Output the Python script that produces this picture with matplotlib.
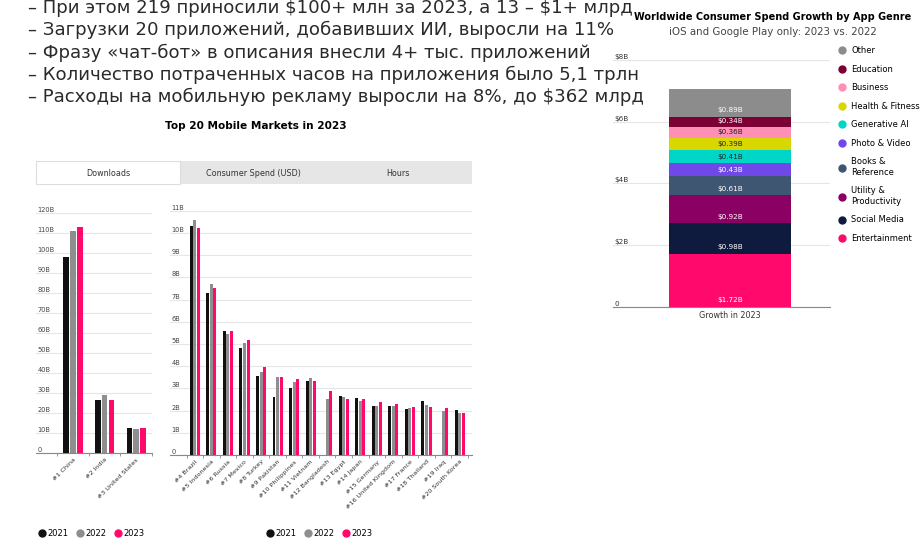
import matplotlib.pyplot as plt
import matplotlib.patches as mpatches
from matplotlib.lines import Line2D
import numpy as np

plt.rcParams['font.family'] = ['DejaVu Sans']

# --- data ---------------------------------------------------------------
bullets = [
    '– При этом 219 приносили $100+ млн за 2023, а 13 – $1+ млрд',
    '– Загрузки 20 приложений, добавивших ИИ, выросли на 11%',
    '– Фразу «чат-бот» в описания внесли 4+ тыс. приложений',
    '– Количество потраченных часов на приложения было 5,1 трлн',
    '– Расходы на мобильную рекламу выросли на 8%, до $362 млрд',
]

years = ['2021', '2022', '2023']
top3 = ['#1 China', '#2 India', '#3 United States']
top3_2021 = [98, 26.5, 12.3]
top3_2022 = [111, 29, 12.2]
top3_2023 = [113, 26.5, 12.6]

rest = ['#4 Brazil', '#5 Indonesia', '#6 Russia', '#7 Mexico', '#8 Turkey',
        '#9 Pakistan', '#10 Philippines', '#11 Vietnam', '#12 Bangladesh',
        '#13 Egypt', '#14 Japan', '#15 Germany', '#16 United Kingdom',
        '#17 France', '#18 Thailand', '#19 Iraq', '#20 South Korea']
rest_2021 = [10.3, 7.3, 5.6, 4.8, 3.55, 2.6, 3.0, 3.35, np.nan, 2.67, 2.57,
             2.2, 2.2, 2.07, 2.45, np.nan, 2.03]
rest_2022 = [10.6, 7.7, 5.45, 5.05, 3.75, 3.5, 3.3, 3.45, 2.52, 2.63, 2.45,
             2.2, 2.2, 2.1, 2.25, 1.97, 1.87]
rest_2023 = [10.2, 7.5, 5.6, 5.2, 3.95, 3.5, 3.4, 3.35, 2.88, 2.53, 2.52,
             2.4, 2.3, 2.15, 2.15, 2.12, 1.91]

genres = ['Entertainment', 'Social Media', 'Utility &\nProductivity',
          'Books &\nReference', 'Photo & Video', 'Generative AI',
          'Health & Fitness', 'Business', 'Education', 'Other']
growth = [1.72, 0.98, 0.92, 0.61, 0.43, 0.41, 0.39, 0.36, 0.34, 0.89]
genre_colors = ['#ff0a6c', '#0e1b3f', '#8a0063', '#3f5672', '#7048ea',
                '#00d6c8', '#d8d800', '#ff8fb4', '#7c0034', '#8c8c8c']
label_dark = ['Generative AI', 'Health & Fitness', 'Business']

year_colors = ['#111111', '#8e8e8e', '#ff0a6c']

W, H = 923, 538
fig = plt.figure(figsize=(W / 100, H / 100), dpi=100)


def box(x0, y0, x1, y1):
    # pixel box (top-left origin) -> figure fraction rect
    return [x0 / W, 1 - y1 / H, (x1 - x0) / W, (y1 - y0) / H]


# --- bullet text -------------------------------------------------------
for i, line in enumerate(bullets):
    fig.text(28 / W, 1 - (8 + 22.3 * i) / H, line, fontsize=13.1,
             va='center', ha='left', color='#2a2a2a', parse_math=False)

# --- title + tabs ------------------------------------------------------
fig.text(256 / W, 1 - 126 / H, 'Top 20 Mobile Markets in 2023',
         fontsize=7.6, fontweight='bold', ha='center', va='center')
tab_y0, tab_y1 = 161, 184
fig.patches.append(mpatches.Rectangle((180 / W, 1 - tab_y1 / H), 292 / W,
                                      (tab_y1 - tab_y0) / H, transform=fig.transFigure,
                                      facecolor='#e6e6e6', edgecolor='none'))
fig.patches.append(mpatches.Rectangle((36 / W, 1 - tab_y1 / H), 144 / W,
                                      (tab_y1 - tab_y0) / H, transform=fig.transFigure,
                                      facecolor='white', edgecolor='#dddddd', lw=0.8))
for txt, cx in [('Downloads', 108), ('Consumer Spend (USD)', 253), ('Hours', 398)]:
    fig.text(cx / W, 1 - 173 / H, txt, fontsize=5.8, ha='center', va='center',
             color='#333333')


def bar_panel(ax, cats, series, ymax, ystep, xlim):
    x = np.arange(len(cats))
    bw, off = 0.18, 0.215
    for k, (vals, col) in enumerate(zip(series, year_colors)):
        ax.bar(x + (k - 1) * off, vals, bw, color=col, zorder=3)
    ax.set_xlim(*xlim)
    ax.set_ylim(0, ymax)
    ticks = np.arange(0, ymax + 0.01, ystep)
    ax.set_yticks(ticks)
    ax.set_yticklabels(['0'] + [f'{t:g}B' for t in ticks[1:]])
    ax.tick_params(axis='y', length=0, pad=-1, labelsize=4.8, labelcolor='#444444')
    for lbl in ax.get_yticklabels():
        lbl.set_ha('left')
        lbl.set_va('bottom')
    ax.grid(axis='y', color='#e6e6e6', lw=0.8, zorder=0)
    for s in ['top', 'right', 'left']:
        ax.spines[s].set_visible(False)
    ax.spines['bottom'].set_color('#888888')
    ax.set_xticks(x)
    ax.set_xticklabels(cats, rotation=45, ha='right', rotation_mode='anchor',
                       fontsize=4.6, color='#333333')
    ax.tick_params(axis='x', length=0, pad=3)
    ax.set_xticks(np.arange(len(cats) + 1) - 0.5, minor=True)
    ax.tick_params(axis='x', which='minor', length=2, color='#888888')
    ax.set_facecolor('none')


ax1 = fig.add_axes(box(36, 213, 152, 453))
bar_panel(ax1, top3, [top3_2021, top3_2022, top3_2023], 120, 10, (-1.17, 2.5))

ax2 = fig.add_axes(box(170, 210.7, 472, 455))
bar_panel(ax2, rest, [rest_2021, rest_2022, rest_2023], 11, 1, (-1.5, 16.75))

# year legends
handles = [Line2D([], [], marker='o', ls='', color=c, markersize=5) for c in year_colors]
for ax, x0 in [(ax1, 38), (ax2, 266)]:
    ax.legend(handles, years, loc='center left', ncol=3, frameon=False,
              bbox_to_anchor=(x0 / W, 1 - 533 / H), bbox_transform=fig.transFigure,
              fontsize=6, handletextpad=0.15, columnspacing=0.9, handlelength=1.0,
              borderaxespad=0, borderpad=0)

# --- right stacked chart ----------------------------------------------
ax3 = fig.add_axes(box(613, 60, 830, 306.7))
bottom = 0.0
for g, v, c in zip(genres, growth, genre_colors):
    ax3.bar(0, v, 1.0, bottom=bottom, color=c, zorder=3)
    tc = '#222222' if g in label_dark else 'white'
    ax3.annotate(f'${v:.2f}B', (0, bottom), xytext=(0, 4.5), textcoords='offset points',
                 ha='center', va='center', fontsize=5.2, color=tc, zorder=4,
                 parse_math=False)
    bottom += v
ax3.set_xlim(-0.959, 0.82)
ax3.set_ylim(0, 8)
ax3.set_yticks([0, 2, 4, 6, 8])
ax3.set_yticklabels(['0', '$2B', '$4B', '$6B', '$8B'])
ax3.tick_params(axis='y', length=0, pad=-1, labelsize=5.2, labelcolor='#333333')
for lbl in ax3.get_yticklabels():
    lbl.set_ha('left')
    lbl.set_va('bottom')
    lbl.set_parse_math(False)
ax3.grid(axis='y', color='#e6e6e6', lw=0.8, zorder=0)
for s in ['top', 'right', 'left']:
    ax3.spines[s].set_visible(False)
ax3.spines['bottom'].set_color('#888888')
ax3.set_xticks([0])
ax3.set_xticklabels(['Growth in 2023'], fontsize=5.8, color='#333333')
ax3.tick_params(axis='x', length=0, pad=3)
ax3.set_facecolor('none')

fig.text(773 / W, 1 - 17 / H, 'Worldwide Consumer Spend Growth by App Genre',
         fontsize=7.0, fontweight='bold', ha='center', va='center')
fig.text(773 / W, 1 - 32 / H, 'iOS and Google Play only: 2023 vs. 2022',
         fontsize=7.4, ha='center', va='center', color='#444444')

g_handles = [Line2D([], [], marker='o', ls='', color=c, markersize=5)
             for c in genre_colors[::-1]]
ax3.legend(g_handles, genres[::-1], loc='upper left', frameon=False,
           bbox_to_anchor=(838 / W, 1 - 46 / H), bbox_transform=fig.transFigure,
           fontsize=6, handletextpad=0.6, handlelength=1.0, labelspacing=1.15,
           borderaxespad=0, borderpad=0)

fig.savefig('out.png', dpi=100)
